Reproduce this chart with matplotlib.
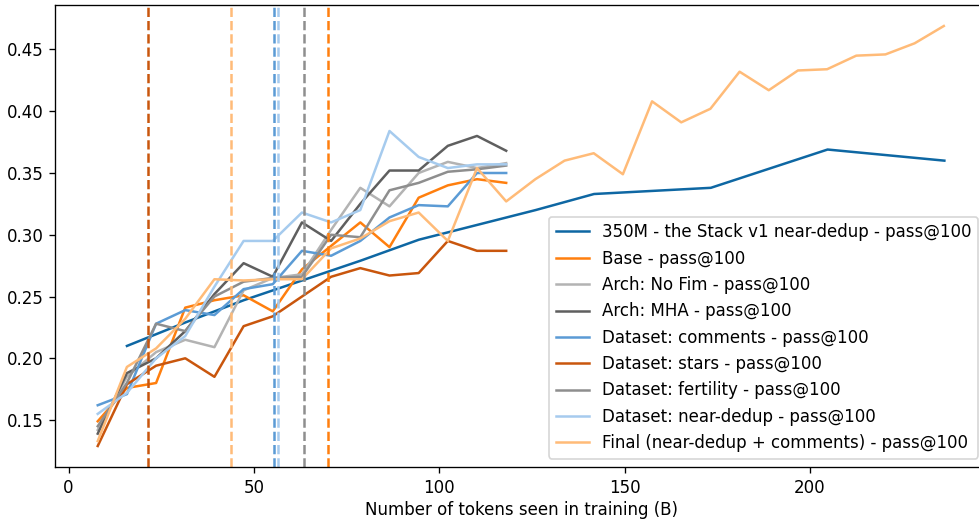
import numpy as np
import matplotlib
matplotlib.use("Agg")
import matplotlib.pyplot as plt

step = 7.87
x15 = [round(step * i, 2) for i in range(1, 16)]
x30 = [round(step * i, 2) for i in range(1, 31)]
x_350m = [15.75, 31.5, 47.25, 63.0, 78.75, 94.5, 110.25, 126.0, 141.75, 173.25, 204.75, 236.25]

y_350m = [0.210, 0.229, 0.247, 0.263, 0.279, 0.296, 0.308, 0.320, 0.333, 0.338, 0.369, 0.360]
y_base = [0.149, 0.176, 0.180, 0.241, 0.247, 0.251, 0.238, 0.272, 0.291, 0.310, 0.290, 0.330, 0.340, 0.345, 0.342]
y_nofim = [0.142, 0.185, 0.205, 0.215, 0.209, 0.255, 0.265, 0.268, 0.304, 0.338, 0.323, 0.350, 0.359, 0.354, 0.358]
y_mha = [0.139, 0.188, 0.200, 0.222, 0.252, 0.277, 0.266, 0.310, 0.295, 0.325, 0.352, 0.352, 0.372, 0.380, 0.368]
y_comments = [0.162, 0.171, 0.228, 0.239, 0.235, 0.256, 0.260, 0.287, 0.283, 0.295, 0.314, 0.324, 0.323, 0.350, 0.350]
y_stars = [0.129, 0.179, 0.194, 0.200, 0.185, 0.226, 0.234, 0.250, 0.266, 0.273, 0.267, 0.269, 0.295, 0.287, 0.287]
y_fertility = [0.145, 0.180, 0.228, 0.222, 0.250, 0.262, 0.265, 0.266, 0.300, 0.298, 0.336, 0.342, 0.351, 0.353, 0.356]
y_neardedup = [0.155, 0.172, 0.200, 0.218, 0.258, 0.295, 0.295, 0.318, 0.310, 0.320, 0.384, 0.363, 0.354, 0.357, 0.357]
y_final = [0.133, 0.193, 0.208, 0.232, 0.264, 0.263, 0.264, 0.264, 0.289, 0.297, 0.311, 0.318, 0.295, 0.354, 0.327,
           0.345, 0.360, 0.366, 0.349, 0.408, 0.391, 0.402, 0.432, 0.417, 0.433, 0.434, 0.445, 0.446, 0.455, 0.469]

labels = ["350M - the Stack v1 near-dedup - pass@100",
          "Base - pass@100",
          "Arch: No Fim - pass@100",
          "Arch: MHA - pass@100",
          "Dataset: comments - pass@100",
          "Dataset: stars - pass@100",
          "Dataset: fertility - pass@100",
          "Dataset: near-dedup - pass@100",
          "Final (near-dedup + comments) - pass@100"]
colors = ["#0e67a3", "#ff7f0e", "#b3b3b3", "#5f5f5f", "#5b9bd5",
          "#c9560d", "#8e8e8e", "#a6cbee", "#ffbb78"]

# best-checkpoint markers (vertical dashed lines)
vline_x = [21.3, 43.9, 55.3, 56.6, 63.6, 70.1]
vline_series = [5, 8, 4, 7, 6, 1]

DPI = 120
fig = plt.figure(figsize=(980 / DPI, 519 / DPI), dpi=DPI)
ax = fig.add_axes([55.4 / 980, 52 / 519, 931.3 / 980, 462 / 519])

series = [(x_350m, y_350m), (x15, y_base), (x15, y_nofim), (x15, y_mha),
          (x15, y_comments), (x15, y_stars), (x15, y_fertility), (x15, y_neardedup),
          (x30, y_final)]
for (xs, ys), lab, c in zip(series, labels, colors):
    ax.plot(xs, ys, color=c, lw=1.5, label=lab)

for xv, si in zip(vline_x, vline_series):
    ax.axvline(xv, color=colors[si], ls="--", lw=1.5)

ax.set_xlabel("Number of tokens seen in training (B)", labelpad=2.5)
ax.legend(loc="lower right")

fig.savefig("out.png", dpi=DPI)
